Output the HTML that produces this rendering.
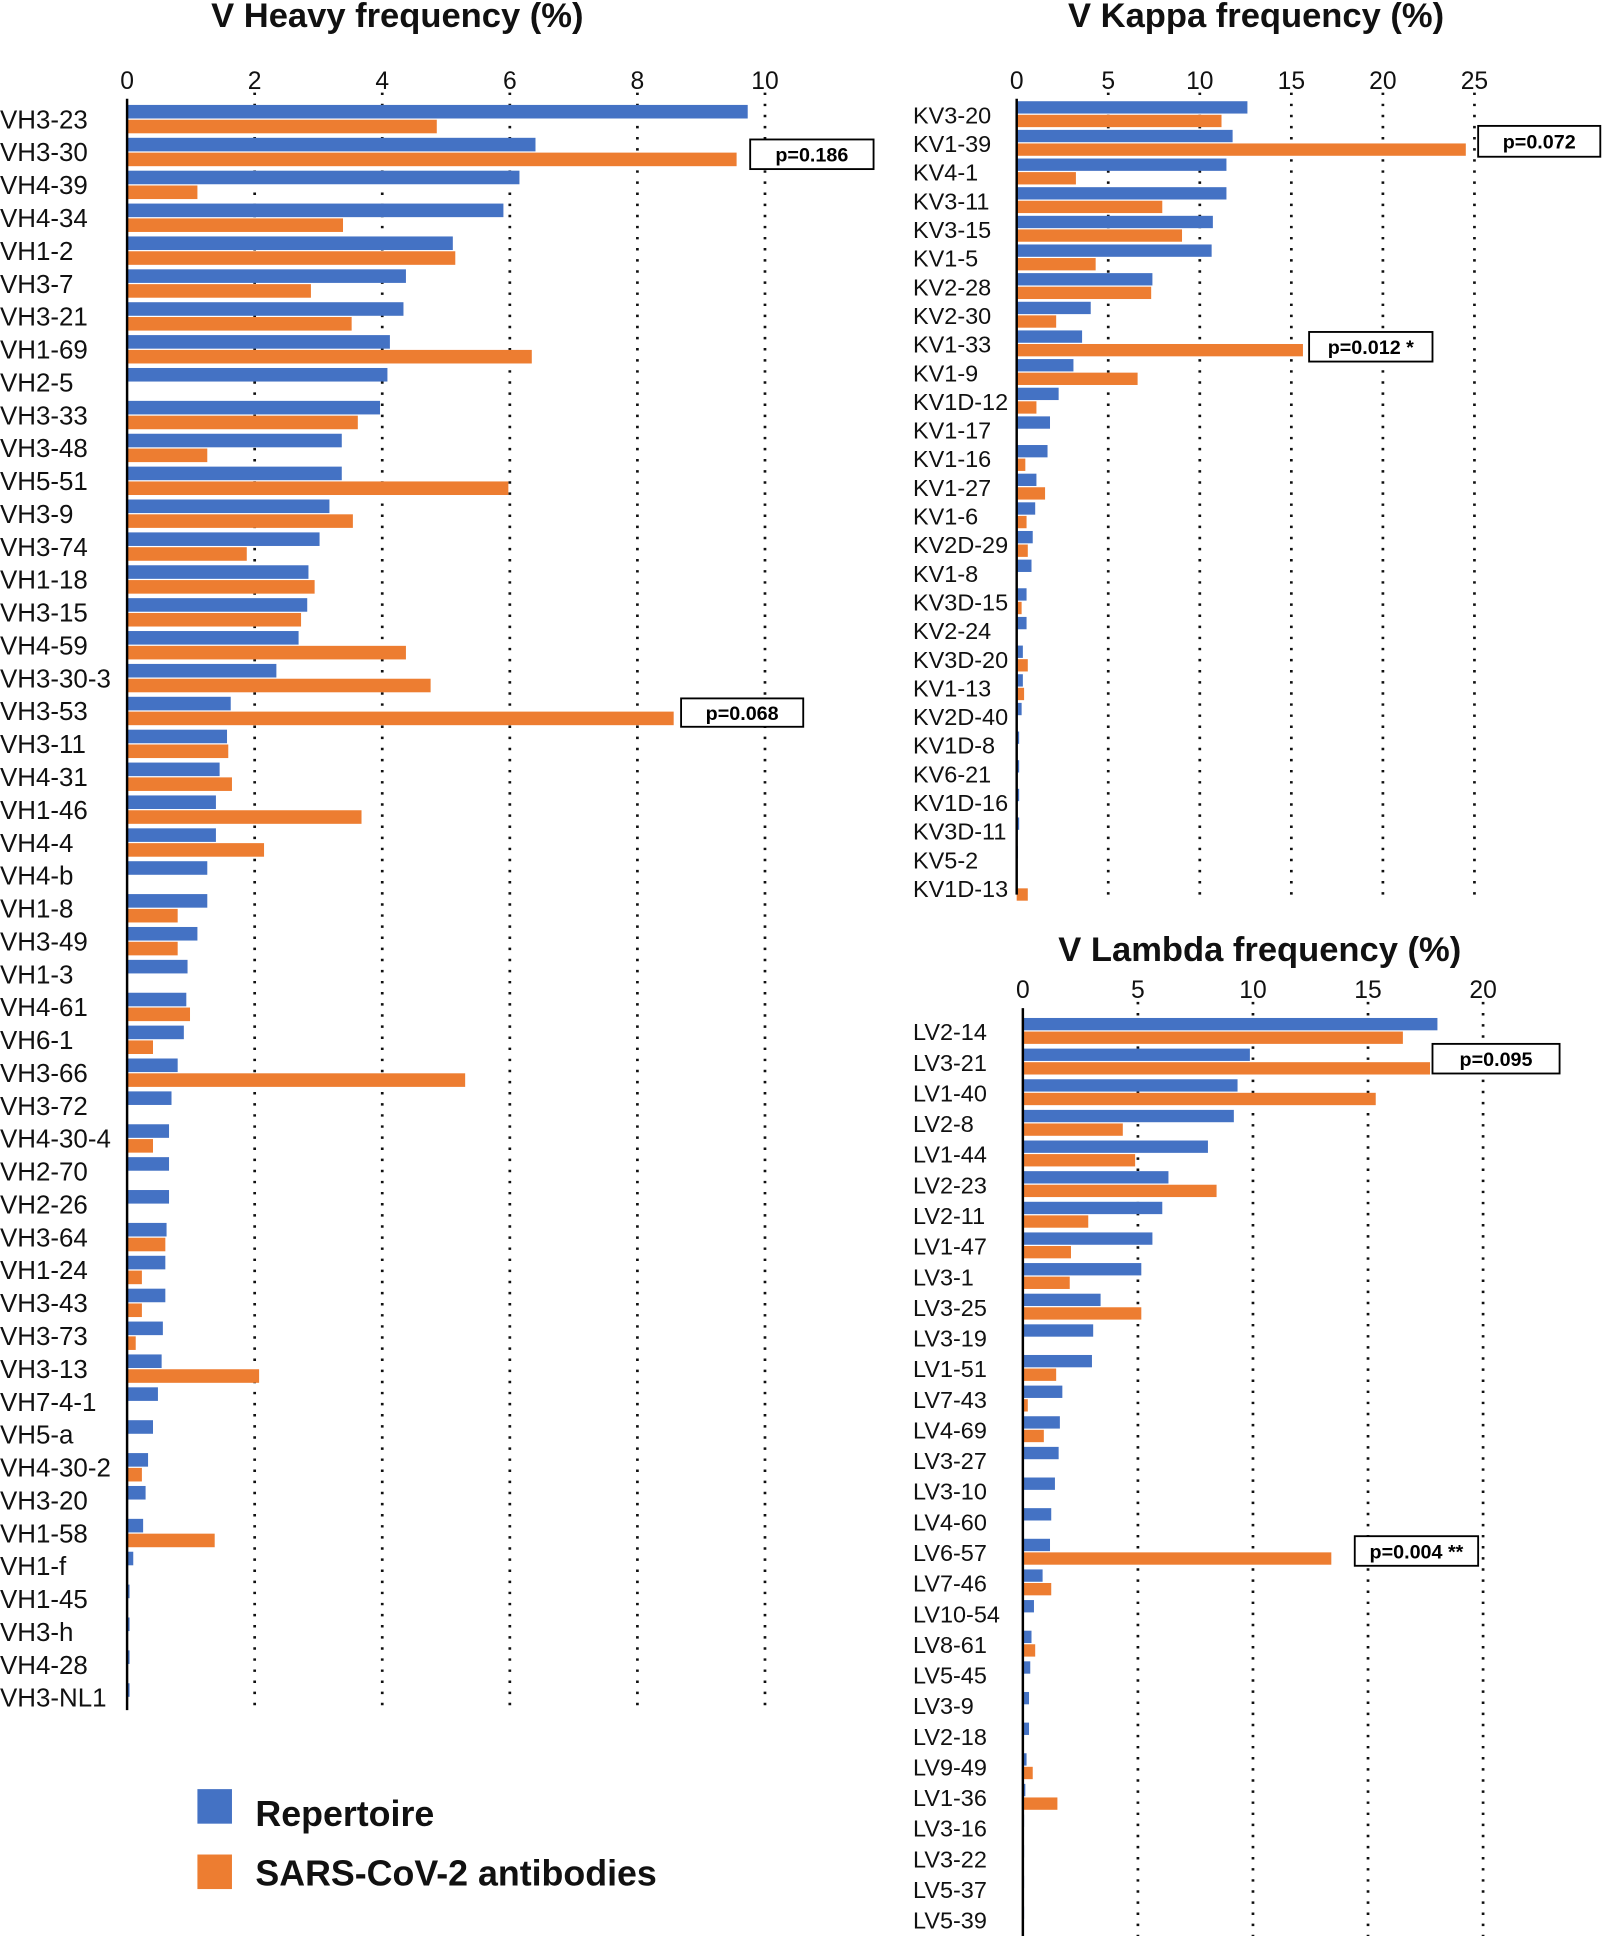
<!DOCTYPE html>
<html><head><meta charset="utf-8"><style>html,body{margin:0;padding:0;background:#fff}svg{display:block}</style></head>
<body>
<svg id="s" width="1604" height="1936" viewBox="0 0 1300 1569" xmlns="http://www.w3.org/2000/svg" font-family="Liberation Sans, sans-serif"></svg>
<script>
const S=document.getElementById('s');let h='';
const B='#4472c4',O='#ed7d31';
function panel(cfg){
 const {x0,unit,ticks,tickY,gTop,gBot,y0,pitch,rows,lx,bh,title,tx,ty,boxes,fs}=cfg;
 h+=`<text x="${tx}" y="${ty}" font-size="28" font-weight="bold" text-anchor="middle" fill="#111">${title}</text>`;
 ticks.forEach(t=>{const x=x0+t*unit;h+=`<text x="${x}" y="${tickY}" font-size="20" text-anchor="middle" fill="#111">${t}</text>`;
  if(t>0)h+=`<line x1="${x}" y1="${gTop}" x2="${x}" y2="${gBot}" stroke="#111" stroke-width="2.2" stroke-dasharray="2 7"/>`;});
 rows.forEach((r,i)=>{const y=y0+pitch*i;
  h+=`<text x="${lx}" y="${y+7}" font-size="${fs}" fill="#111">${r[0]}</text>`;
  if(r[1])h+=`<rect x="${x0}" y="${y-bh-1}" width="${r[1]-x0}" height="${bh}" fill="${B}"/>`;
  if(r[2])h+=`<rect x="${x0}" y="${y}" width="${r[2]-x0}" height="${bh}" fill="${O}"/>`;});
 h+=`<line x1="${x0}" y1="${gTop+5}" x2="${x0}" y2="${gBot}" stroke="#000" stroke-width="2"/>`;
 boxes.forEach(b=>{h+=`<rect x="${b[0]}" y="${b[1]}" width="${b[2]-b[0]}" height="${b[3]-b[1]}" fill="#fff" stroke="#000" stroke-width="1.5"/><text x="${(b[0]+b[2])/2}" y="${(b[1]+b[3])/2+6}" font-size="16" font-weight="bold" text-anchor="middle">${b[4]}</text>`;});
}
panel({x0:103,unit:51.7,ticks:[0,2,4,6,8,10],tickY:72,gTop:75,gBot:1386,y0:97,pitch:26.65,lx:0,bh:11,fs:21,
title:'V Heavy frequency (%)',tx:322,ty:22,
boxes:[[608,113,708,137,'p=0.186'],[552,566,651,589,'p=0.068']],
rows:[['VH3-23',606,354],['VH3-30',434,597],['VH4-39',421,160],['VH4-34',408,278],['VH1-2',367,369],['VH3-7',329,252],['VH3-21',327,285],['VH1-69',316,431],['VH2-5',314,0],['VH3-33',308,290],['VH3-48',277,168],['VH5-51',277,412],['VH3-9',267,286],['VH3-74',259,200],['VH1-18',250,255],['VH3-15',249,244],['VH4-59',242,329],['VH3-30-3',224,349],['VH3-53',187,546],['VH3-11',184,185],['VH4-31',178,188],['VH1-46',175,293],['VH4-4',175,214],['VH4-b',168,0],['VH1-8',168,144],['VH3-49',160,144],['VH1-3',152,0],['VH4-61',151,154],['VH6-1',149,124],['VH3-66',144,377],['VH3-72',139,0],['VH4-30-4',137,124],['VH2-70',137,0],['VH2-26',137,0],['VH3-64',135,134],['VH1-24',134,115],['VH3-43',134,115],['VH3-73',132,110],['VH3-13',131,210],['VH7-4-1',128,0],['VH5-a',124,0],['VH4-30-2',120,115],['VH3-20',118,0],['VH1-58',116,174],['VH1-f',108,0],['VH1-45',105,0],['VH3-h',105,0],['VH4-28',105,0],['VH3-NL1',105,0]]});
panel({x0:824,unit:14.84,ticks:[0,5,10,15,20,25],tickY:72,gTop:75,gBot:725,y0:93,pitch:23.22,lx:740,bh:10,fs:19,
title:'V Kappa frequency (%)',tx:1018,ty:22,
boxes:[[1198,102,1297,127,'p=0.072'],[1061,269,1161,293,'p=0.012 *']],
rows:[['KV3-20',1011,990],['KV1-39',999,1188],['KV4-1',994,872],['KV3-11',994,942],['KV3-15',983,958],['KV1-5',982,888],['KV2-28',934,933],['KV2-30',884,856],['KV1-33',877,1056],['KV1-9',870,922],['KV1D-12',858,840],['KV1-17',851,0],['KV1-16',849,831],['KV1-27',840,847],['KV1-6',839,832],['KV2D-29',837,833],['KV1-8',836,0],['KV3D-15',832,828],['KV2-24',832,0],['KV3D-20',829,833],['KV1-13',829,830],['KV2D-40',828,0],['KV1D-8',826,0],['KV6-21',826,0],['KV1D-16',826,0],['KV3D-11',826,0],['KV5-2',825,0],['KV1D-13',0,833]]});
panel({x0:829,unit:18.65,ticks:[0,5,10,15,20],tickY:809,gTop:812,gBot:1569,y0:836,pitch:24.83,lx:740,bh:10,fs:19,
title:'V Lambda frequency (%)',tx:1021,ty:779,
boxes:[[1161,846,1264,870,'p=0.095'],[1098,1245,1198,1269,'p=0.004 **']],
rows:[['LV2-14',1165,1137],['LV3-21',1013,1159],['LV1-40',1003,1115],['LV2-8',1000,910],['LV1-44',979,920],['LV2-23',947,986],['LV2-11',942,882],['LV1-47',934,868],['LV3-1',925,867],['LV3-25',892,925],['LV3-19',886,0],['LV1-51',885,856],['LV7-43',861,833],['LV4-69',859,846],['LV3-27',858,0],['LV3-10',855,0],['LV4-60',852,0],['LV6-57',851,1079],['LV7-46',845,852],['LV10-54',838,0],['LV8-61',836,839],['LV5-45',835,0],['LV3-9',834,0],['LV2-18',834,0],['LV9-49',832,837],['LV1-36',831,857],['LV3-16',830,0],['LV3-22',830,0],['LV5-37',830,0],['LV5-39',830,0]]});
h+=`<rect x="160" y="1450" width="28" height="28" fill="${B}"/><text x="207" y="1480" font-size="29" font-weight="bold" fill="#111">Repertoire</text>`;
h+=`<rect x="160" y="1503" width="28" height="28" fill="${O}"/><text x="207" y="1528" font-size="29" font-weight="bold" fill="#111">SARS-CoV-2 antibodies</text>`;
S.innerHTML=h;
</script>
</body></html>
